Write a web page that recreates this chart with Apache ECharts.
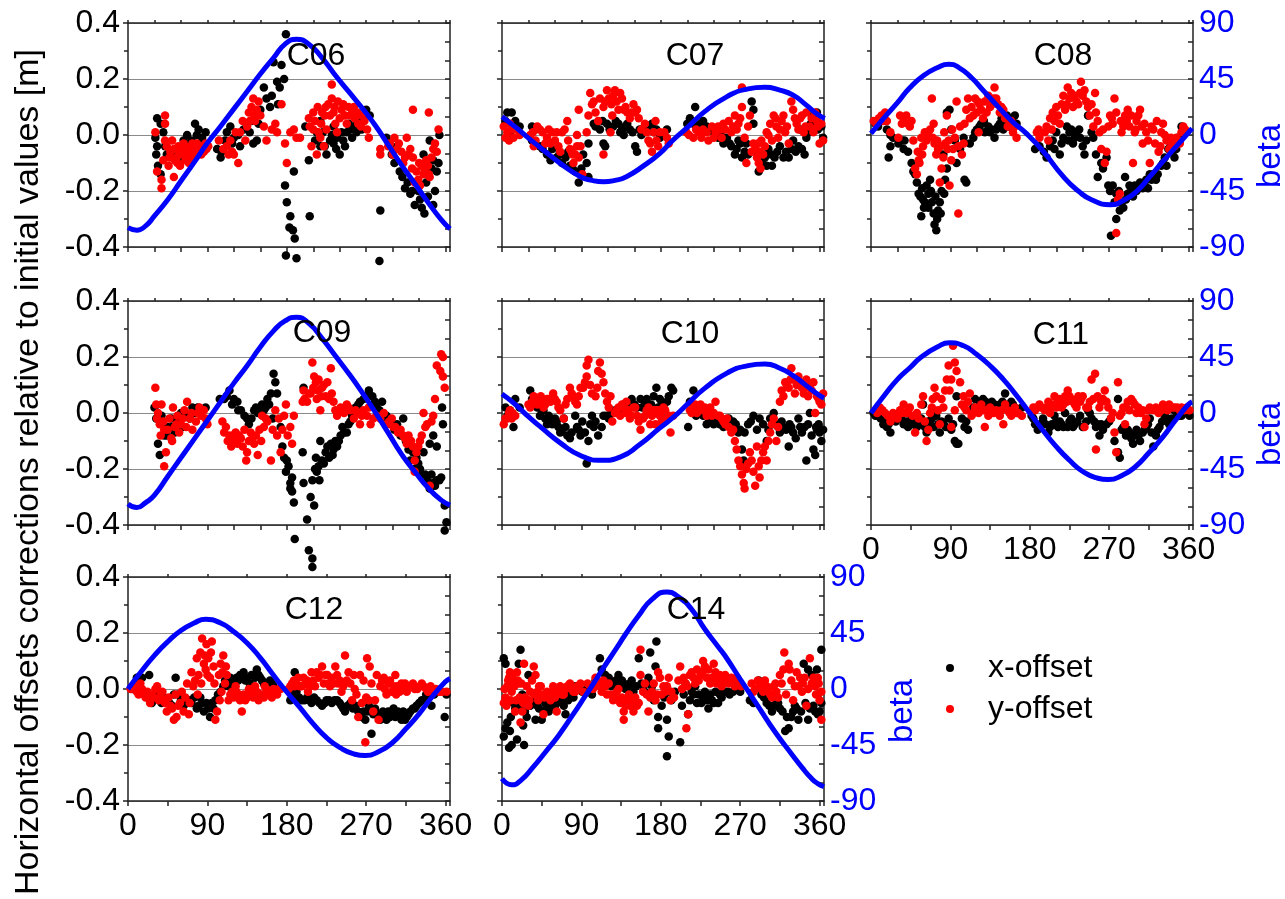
<!DOCTYPE html>
<html><head><meta charset="utf-8">
<script src="https://cdn.jsdelivr.net/npm/echarts@6/dist/echarts.min.js"></script>
<style>html,body{margin:0;padding:0;background:#fff}#c{width:1285px;height:899px}</style>
</head><body><div id="c"></div>
<script>
// ---------------- data ----------------
const panelNames = ['C06','C07','C08','C09','C10','C11','C12','C14'];
const xTickLabels = [0, 90, 180, 270, 360];
const yTickLabels = [-0.4, -0.2, 0.0, 0.2, 0.4];
const betaTickLabels = [-90, -45, 0, 45, 90];
const legendNames = ['x-offset', 'y-offset'];
const yAxisTitle = 'Horizontal offsets corrections relative to initial values [m]';
const betaTitle = 'beta';

// beta angle curves [deg, beta]
const betaC06 = [[0,-74.5],[10,-76.5],[20,-73],[30,-65],[45,-52],[60,-37],[75,-22],[90,-6.5],[105,7],[120,21],[135,35],[150,49],[165,62],[178,73],[191,77],[205,73],[220,62],[235,48],[250,35],[265,22],[280,8],[295,-8],[310,-24],[325,-39],[340,-54],[355,-68],[365,-75.5]];
const betaC07 = [[0,14.7],[15,6.5],[28,-1.3],[45,-11],[66,-22.8],[89,-33.5],[102,-36.5],[115,-37.5],[128,-36.5],[141,-33.5],[160,-25],[179,-14.7],[194,-4],[209,5.4],[230,19],[255,30.8],[275,36.5],[298,38.3],[315,36],[330,32],[345,24],[358,16.5],[366,13.4]];
const betaC08 = [[0,1.3],[15,14],[30,26],[44,38],[60,48],[75,54],[88,56.8],[100,54],[114,46],[127,36],[145,22],[160,11],[176,1.3],[195,-13],[218,-33.5],[235,-45],[250,-52],[271,-56],[290,-51],[303,-44],[316,-33.5],[330,-22],[345,-10],[355,-2],[364,5.4]];
const betaC09 = [[0,-73],[10,-76],[20,-72],[30,-66],[45,-51],[60,-36],[75,-21],[90,-6],[105,9],[120,24],[135,38],[150,53],[165,66],[178,74],[191,77],[205,72],[220,60],[235,46],[250,32],[265,17],[280,1],[295,-16],[310,-33],[325,-47],[340,-60],[355,-70],[365,-74]];
const betaC10 = [[0,15.3],[15,7],[30,-3],[45,-12],[66,-24],[90,-34.5],[113,-38],[135,-35],[155,-26],[179,-12],[195,-3],[210,7],[230,20],[255,32],[275,37.5],[298,39.3],[315,36],[330,30],[345,22],[358,15],[365,12]];
const betaC11 = [[0,0],[15,14],[30,27],[45,37],[57,45],[75,53],[89,56.4],[105,54],[120,47],[135,38],[150,27],[165,14],[180,0],[195,-14],[210,-27],[225,-38],[240,-47],[255,-52],[269,-53.5],[285,-50],[300,-43],[315,-32],[330,-20],[345,-6],[360,7],[364,9]];
const betaC12 = [[0,0],[15,14],[30,27],[45,38],[60,47],[75,53],[88,56],[105,53],[120,46],[135,37],[150,25],[165,11],[176,1],[195,-15],[210,-28],[225,-39],[240,-47],[255,-52],[269,-53.5],[285,-50],[300,-43],[315,-32],[330,-20],[345,-6],[360,6],[365,8.4]];
const betaC14 = [[0,-72],[11,-77],[22,-73],[35,-63],[50,-50],[64,-37.5],[80,-21],[95,-5],[102,2.5],[115,17],[130,33],[140,44],[155,59],[170,72],[187,78],[200,74],[215,64],[230,48],[245,34],[253,26.5],[270,8],[290,-13.5],[310,-35],[328,-52],[340,-63],[351,-72],[358,-76],[365,-78.5]];

// x-offset / y-offset corrections [deg, m]
const xoffC06 = [[33,0.06],[37,0.04],[31,-0.01],[33,-0.04],[32,-0.07],[34,-0.11],[37,-0.14],[40,0.01],[42,-0.04],[44,-0.07],
[55,-0.05],[61,-0.08],[67,0],[72,-0.02],[76,0.04],[80,0.02],[84,-0.01],[88,0.01],[67,-0.04],
[101,-0.05],[105,-0.08],[106,-0.06],[110,-0.02],[116,0.03],[120,-0.01],[125,0],[127,-0.04],[135,0.04],[138,0.01],[142,-0.03],[146,-0.02],[150,0.09],
[154,0.17],[157,0.13],[161,0.10],[163,0.14],[165,0.26],[169,0.19],[172,0.17],[174,0.25],[177,0.20],[179,0.36],[170,0.11],
[178,-0.18],[180,-0.24],[184,-0.29],[183,-0.33],[187,-0.34],[189,-0.37],[179,-0.43],[191,-0.44],[188,-0.13],
[201,0.03],[205,-0.09],[206,-0.29],[212,-0.02],[218,-0.04],[221,0.01],[225,-0.07],[229,-0.02],[233,-0.03],[237,-0.01],[240,-0.07],[244,-0.02],[248,0.01],[252,0.02],[256,0.03],[259,0.01],[263,0.04],[267,0.06],[274,0.07],[233,0.03],[218,0.05],
[285,-0.45],[286,-0.27],[293,-0.01],[299,-0.07],[305,-0.04],[308,-0.13],[314,-0.19],[320,-0.21],[325,-0.25],[327,-0.17],[331,-0.23],[336,-0.28],[335,-0.07],[338,-0.17],[342,-0.02],[346,-0.25],[346,-0.09],[350,-0.13],[352,-0.10],[353,0],
[50,-0.06],[58,-0.06],[63,-0.02],[70,-0.05],[78,0],[85,-0.03],[112,0.01],[118,-0.03],[131,0.02],[140,0.05],[148,0.04],[214,0.01],[223,-0.04],[231,0],[236,-0.05],[242,0.01],[246,-0.04],[250,0.04],[254,-0.01],[260,0.05],[265,0.02],[270,0.09],[296,-0.03],[302,-0.1],[311,-0.15],[317,-0.17],[322,-0.2],[329,-0.2],[333,-0.26],[340,-0.22],[344,-0.12],[348,-0.2]];
const yoffC06 = [[31,0.01],[33,-0.13],[38,-0.16],[38,-0.19],[42,0.07],[42,0.04],[42,-0.02],[40,-0.09],[46,-0.11],[44,-0.04],
[50,-0.02],[52,-0.05],[55,-0.08],[57,-0.04],[61,-0.06],[63,-0.03],[65,-0.09],[67,-0.07],[71,-0.04],[72,-0.07],[74,-0.05],[78,-0.03],[80,-0.06],[84,-0.04],[88,-0.03],[89,-0.05],[59,-0.11],[69,-0.10],[52,-0.15],[76,-0.08],
[103,-0.02],[112,-0.04],[118,-0.06],[120,-0.07],[125,-0.10],[116,-0.02],[122,0.01],[127,0.01],[135,0.03],[137,0.08],[140,0.10],[142,0.13],[146,0.09],[150,0.07],[144,0.05],[138,0.05],[133,-0.02],[154,0.03],[157,-0.02],
[163,0.02],[167,0.04],[169,0.01],[174,0.11],[178,-0.03],[180,-0.10],[184,0.01],[188,0.02],[191,-0.01],[195,-0.01],
[206,0.03],[208,-0.04],[210,0.08],[212,0.05],[214,-0.07],[218,-0.01],[220,0.08],[223,0.07],[227,0.11],[231,0.18],[231,0.13],[233,0.08],[235,0.04],[238,0.12],[242,0.09],[246,0.07],[250,0.10],[254,0.09],[257,0.06],[261,0.04],[265,0.07],[271,0.02],[273,-0.01],[222,-0.04],[216,0.01],
[286,-0.05],[286,-0.07],[297,-0.03],[302,-0.01],[305,-0.05],[310,-0.06],[314,-0.08],[316,-0.01],[320,-0.05],[323,0.09],[323,-0.08],[327,-0.13],[329,-0.16],[333,-0.11],[335,-0.14],[338,-0.09],[341,0.08],[341,-0.14],[342,-0.15],[346,-0.05],[352,0.02],[350,-0.06],[331,-0.18],[325,-0.17],
[48,-0.06],[53,-0.09],[58,-0.07],[62,-0.04],[66,-0.05],[70,-0.08],[75,-0.06],[79,-0.05],[83,-0.07],[86,-0.06],[91,-0.04],[47,-0.08],[56,-0.1],[64,-0.07],[73,-0.03],
[205,0.06],[210,0.02],[215,0.1],[219,0.04],[224,0.1],[229,0.07],[234,0.1],[240,0.06],[244,0.11],[248,0.04],[252,0.07],[256,0.1],[260,0.08],[264,0.03],[268,0.05],[225,0.02],[237,0.01],
[295,-0.04],[300,-0.07],[307,-0.03],[312,-0.1],[318,-0.07],[322,-0.12],[330,-0.1],[336,-0.12],[340,-0.11],[344,-0.08],[348,-0.03],
[108,-0.05],[114,-0.07],[130,0.05],[143,0.07],[148,0.12]];

const xoffC07 = [[6,0.08],[11,0.08],[15,0.05],[4,0.05],[9,0.01],[8,0],
[34,0.03],[38,0.02],[34,-0.02],[43,-0.04],[51,-0.07],[57,-0.05],[62,-0.08],[68,-0.10],[72,-0.08],[77,-0.11],[83,-0.13],[87,-0.17],[96,-0.10],[98,-0.15],[92,-0.07],[98,-0.03],[115,-0.03],[117,-0.04],
[104,0.04],[111,0.02],[119,0.04],[126,0.03],[132,0.04],[136,0.02],[138,0],[142,0.04],[145,0.02],[151,-0.04],[153,-0.06],[158,0],[162,0.03],[170,0.04],[175,0.02],[179,-0.01],[187,0.02],
[213,0.06],[219,0.10],[217,0.04],[225,0.04],[232,0.03],[240,0.01],[245,-0.01],[251,-0.03],[255,-0.01],[260,-0.04],[264,-0.07],[268,-0.02],[272,-0.08],[275,-0.06],[277,-0.03],[283,0.12],[285,0.09],[285,0.04],[291,-0.13],[292,-0.10],
[298,-0.08],[302,-0.05],[306,-0.11],[309,-0.08],[315,-0.04],[319,-0.08],[325,-0.08],[330,-0.02],[336,-0.04],[338,0.02],[343,-0.07],[345,-0.01],[353,0.07],[357,0.08],[358,0.02],[362,0.03],[364,-0.01],
[20,0.03],[46,-0.05],[55,-0.09],[65,-0.07],[75,-0.06],[80,-0.12],[90,-0.12],[106,0.03],[114,0.05],[122,0.02],[129,0.05],[134,0.01],[140,0.03],[148,0.01],[156,0.02],[165,0.02],[172,0.01],[210,0.04],[222,0.03],[228,0.05],[236,0.02],[248,0],[258,-0.03],[266,-0.05],[270,-0.03],[279,-0.07],[288,-0.06],[295,-0.09],[300,-0.11],[305,-0.07],[312,-0.06],[322,-0.06],[328,-0.05],[333,-0.06],[340,-0.05],[348,0.01],[350,0.04],[355,0.05]];
const yoffC07 = [[2,0.03],[6,0.01],[8,-0.02],[13,-0.01],[9,0.04],[15,0.02],
[32,0],[36,-0.04],[40,0.03],[43,0.02],[49,-0.03],[53,0.02],[57,0.01],[60,-0.02],[64,-0.04],[68,0.01],[74,0.05],[75,-0.02],[79,-0.06],[81,-0.10],[85,-0.04],[87,-0.08],[83,-0.07],[89,-0.04],[91,-0.14],[87,0.09],[85,0],
[96,0.01],[98,0.07],[100,0.15],[102,0.11],[106,0.08],[109,0.05],[115,0.10],[119,0.16],[121,0.13],[125,0.07],[126,0.14],[130,0.12],[134,0.15],[136,0.13],[138,0.09],[142,0.08],[145,0.06],[149,0.11],[151,0.08],[155,0.06],[115,-0.07],[123,0.01],[162,0.04],[164,0.01],[168,-0.03],[170,-0.06],[174,0.05],[175,-0.02],[179,0.01],[187,-0.01],[189,-0.03],
[209,0.01],[217,-0.01],[223,0.01],[228,0.02],[234,-0.02],[238,0.03],[242,0.01],[245,0.03],[249,-0.01],[253,0.02],[257,0.05],[260,0.01],[264,0.07],[268,0.04],[272,0.17],[272,0.10],[275,-0.01],[277,-0.10],[281,0.07],[285,-0.03],[287,-0.05],[289,-0.08],[291,-0.10],[292,-0.06],[294,-0.02],[296,-0.07],
[300,0.01],[304,0.04],[306,-0.02],[308,0.07],[311,0.03],[313,-0.01],[317,0.05],[321,0.01],[325,-0.03],[328,0.12],[330,0.09],[334,0.04],[338,0.06],[342,0.01],[345,0.08],[349,0.03],[353,0.01],[357,0.05],[360,-0.03],[362,0.04],[364,-0.02],
[4,-0.01],[11,0.02],[20,0],[35,0.01],[38,-0.02],[46,0.01],[51,-0.01],[55,-0.03],[62,0.01],[66,-0.06],[71,0.02],[77,-0.05],[80,-0.07],[104,0.12],[111,0.13],[117,0.12],[124,0.11],[128,0.16],[132,0.09],[140,0.1],[147,0.08],[153,0.09],[158,0.02],[166,-0.02],[172,0.01],[177,-0.04],[184,0.01],[212,0],[220,0.02],[226,-0.01],[232,0.01],[240,-0.01],[247,0.02],[251,0.04],[262,0.03],[266,0.02],[270,0.06],[279,0.03],[283,-0.06],[290,-0.03],[293,-0.12],[298,-0.04],[302,0],[310,0.06],[315,0.02],[319,0.07],[323,0.03],[332,0.06],[336,0.02],[340,0.07],[344,0.03],[351,0.06],[355,0.08],[358,0.03]];

const xoffC08 = [[5,0.04],[10,0.05],[18,0.02],[20,-0.08],[22,-0.04],[22,0],
[31,-0.03],[35,-0.02],[37,-0.05],[38,-0.02],[46,-0.10],[48,-0.13],[52,-0.17],[54,-0.21],[56,-0.22],[57,-0.29],[59,-0.23],[61,-0.24],[65,-0.21],[65,-0.26],[67,-0.16],[69,-0.24],[71,-0.28],[72,-0.32],[74,-0.34],[76,-0.27],[78,-0.24],[80,-0.20],[84,-0.16],[86,-0.12],[63,-0.18],
[82,-0.07],[86,0.08],[89,0.09],[91,0.02],[95,-0.02],[97,-0.10],[101,-0.05],[105,-0.01],[106,-0.16],[108,-0.17],[112,-0.03],[116,-0.01],[120,0.02],[125,0.04],[129,0.01],[133,0.03],[137,0.02],[140,-0.01],[142,0.02],[146,0.04],[150,0.02],[154,0.07],[157,0.03],[163,0.07],[165,0.04],
[186,-0.05],[191,-0.04],[199,-0.08],[203,-0.04],[206,-0.02],[210,0.01],[214,-0.07],[218,-0.01],[222,0.03],[225,0.01],[229,-0.03],[233,0.01],[237,-0.01],[240,-0.04],[242,-0.07],[246,0.07],[252,-0.01],[255,-0.07],[257,-0.15],[261,-0.10],[263,-0.12],[267,-0.08],
[269,-0.18],[271,-0.20],[274,-0.18],[278,-0.21],[272,-0.36],[278,-0.30],[282,-0.27],[286,-0.26],[288,-0.15],[289,-0.23],[291,-0.21],[295,-0.19],[299,-0.18],[301,-0.20],[305,-0.17],[308,-0.19],[312,-0.16],[316,-0.14],[320,-0.14],[323,-0.16],[329,-0.11],[333,-0.08],[337,-0.05],[340,-0.03],[344,-0.08],[348,-0.01],[352,0.03],[355,0.01],
[8,0.03],[25,-0.01],[42,-0.06],[50,-0.14],[58,-0.19],[60,-0.26],[68,-0.2],[73,-0.22],[75,-0.3],[79,-0.28],[83,-0.21],[118,0.01],[123,0.03],[128,0.05],[135,0.01],[144,0.03],[148,0.06],[152,0.04],[160,0.05],[196,-0.06],[208,-0.05],[216,-0.03],[224,-0.02],[227,0.02],[231,-0.01],[236,0.02],[244,-0.02],[250,0.01],[276,-0.24],[281,-0.2],[284,-0.24],[293,-0.18],[297,-0.22],[303,-0.19],[310,-0.17],[314,-0.19],[318,-0.16],[325,-0.14],[331,-0.1],[335,-0.11],[342,-0.06],[346,-0.05],[350,-0.02]];
const yoffC08 = [[3,0.05],[6,0.04],[12,0.07],[16,0.08],[18,0.05],[22,0.01],
[31,-0.01],[33,0.07],[37,0.06],[40,0.07],[42,0.04],[46,0.05],[48,-0.02],[50,-0.12],[52,-0.14],[54,-0.09],[55,-0.10],[57,-0.01],[59,-0.04],[61,0.01],[63,-0.02],[67,0.02],[69,0.13],[71,0.04],[72,-0.03],[74,-0.07],[76,-0.05],[78,-0.17],[80,-0.12],[82,-0.08],[84,-0.03],[86,0.07],[88,-0.02],[89,-0.18],[91,-0.09],[93,-0.05],[95,-0.01],
[97,0.12],[99,-0.28],[99,-0.04],[103,-0.07],[105,-0.03],[106,0.04],[110,0.13],[112,0.06],[114,0.10],[118,0.13],[120,0.08],[122,0.01],[123,0.11],[127,0.06],[131,0.08],[133,0.14],[137,0.11],[140,0.17],[142,0.13],[146,0.08],[148,0.10],[152,0.06],[155,0.03],[159,0.05],[161,0.01],[165,-0.01],
[188,0.01],[191,-0.01],[197,0.01],[201,-0.02],[205,0.02],[206,0.08],[208,0.05],[210,0.10],[214,0.04],[218,0.14],[220,0.09],[223,0.17],[225,0.13],[229,0.10],[231,0.14],[235,0.11],[238,0.19],[240,0.14],[242,0.16],[246,0.10],[248,0.07],[252,0.03],[254,0.15],[255,0.08],[259,0.01],[261,-0.05],[265,-0.10],[267,-0.06],
[271,0.07],[274,0.04],[276,0.13],[278,-0.35],[280,-0.23],[282,-0.21],[284,0.01],[286,0.03],[288,0.07],[291,0.09],[293,0.03],[297,-0.10],[299,0.01],[301,0.05],[305,0.09],[307,0.03],[308,-0.03],[312,0.01],[316,-0.10],[318,0.03],[322,-0.03],[326,-0.06],[329,0.01],[331,0.04],[335,-0.02],[338,-0.05],[340,-0.01],[344,-0.04],[348,-0.02],[352,0.01],[354,0.03],
[9,0.06],[14,0.05],[35,0.04],[44,0.03],[53,-0.06],[58,-0.07],[65,0],[70,-0.01],[75,-0.02],[79,-0.04],[83,0.01],[87,-0.05],[92,0.02],[101,0.03],[108,0.09],[116,0.07],[121,0.12],[125,0.09],[129,0.12],[135,0.1],[139,0.13],[144,0.11],[150,0.09],[157,0.04],[163,0.03],[190,0.02],[199,0.03],[203,0.06],[212,0.07],[216,0.11],[222,0.11],[227,0.15],[233,0.12],[237,0.15],[244,0.12],[250,0.11],[257,0.05],[263,0.02],[269,0.03],[273,0.06],[278,0.08],[283,0.05],[290,0.05],[295,0.07],[300,0.02],[303,0.07],[310,0.04],[314,-0.02],[320,0.02],[324,0.05],[328,-0.04],[333,0],[337,-0.02],[342,-0.03],[346,-0.01],[350,-0.03],[356,0.02]];

const xoffC09 = [[30,0.02],[34,-0.11],[36,-0.15],[38,-0.01],[41,-0.08],[45,-0.05],[49,-0.02],[53,-0.07],[62,-0.05],[66,-0.01],[73,0.02],[79,0.02],[88,0.02],
[109,0.05],[115,0.08],[120,0.05],[124,0.04],[128,0.01],[132,-0.01],[137,-0.04],[143,0.01],[147,0],[150,0.02],[154,0.01],[158,0.05],[162,0.07],[165,0.14],[167,0.11],[169,0.07],[164,-0.02],[173,-0.05],
[177,-0.16],[179,-0.21],[182,-0.19],[184,-0.25],[186,-0.23],[184,-0.27],[188,-0.32],[189,-0.45],[198,-0.14],[199,-0.25],[203,-0.38],[205,-0.49],[209,-0.52],[209,-0.55],[207,-0.30],[211,-0.33],[209,-0.24],[199,0.09],
[213,-0.16],[214,-0.21],[216,-0.19],[218,-0.10],[220,-0.17],[224,-0.14],[228,-0.16],[230,-0.11],[233,-0.13],[237,-0.12],[241,-0.08],[243,-0.05],[248,-0.07],[250,-0.04],[254,-0.01],[258,0.02],[261,0.03],[267,0.05],[273,0.08],[277,0.06],[282,0.02],[288,0.04],[293,-0.01],[299,-0.04],[305,-0.04],[312,-0.02],[309,-0.08],
[320,-0.17],[323,-0.14],[325,-0.20],[329,-0.18],[333,-0.22],[335,-0.14],[339,-0.24],[342,-0.27],[346,-0.25],[350,-0.24],[355,-0.23],[342,-0.11],[350,-0.12],[357,-0.04],[356,0.02],[359,-0.33],[361,-0.39],[359,-0.42],[346,-0.08],
[32,-0.02],[40,-0.04],[44,-0.08],[50,-0.05],[56,-0.03],[60,0],[70,-0.02],[76,0],[84,0.01],[104,0.05],[112,0.06],[118,0.03],[125,0.01],[135,-0.02],[140,-0.02],[145,0.02],[152,0.03],[156,0.02],[160,0.03],[175,-0.12],[180,-0.17],[186,-0.28],[212,-0.2],[217,-0.24],[222,-0.18],[226,-0.12],[232,-0.15],[235,-0.1],[239,-0.1],[245,-0.07],[252,-0.03],[256,0],[263,0.04],[270,0.06],[280,0.04],[285,0.01],[290,-0.02],[296,-0.03],[302,-0.06],[315,-0.1],[318,-0.13],[327,-0.16],[331,-0.2],[337,-0.22],[344,-0.22],[348,-0.26],[353,-0.24]];
const yoffC09 = [[31,0.09],[32,0.03],[34,0],[38,0.03],[36,-0.04],[41,-0.06],[43,-0.14],[41,-0.19],[47,-0.02],[49,-0.09],[51,0.02],[53,-0.05],[56,-0.01],[60,-0.04],[64,0.01],[67,0.04],[70,-0.02],[73,-0.06],[79,0],[83,-0.01],[86,0.01],[90,-0.04],
[107,-0.03],[111,-0.05],[115,-0.08],[117,-0.12],[120,-0.10],[122,-0.07],[126,-0.08],[130,-0.12],[134,-0.17],[135,-0.14],[139,-0.07],[143,-0.11],[147,-0.15],[149,-0.06],[152,-0.01],[156,-0.02],[162,-0.17],[164,-0.06],[167,0.01],[171,-0.02],[173,-0.14],[177,-0.01],[179,0.03],[181,-0.08],[184,-0.05],[188,-0.01],[186,-0.11],
[198,0.04],[199,0.08],[203,0.04],[207,0.07],[209,0.18],[211,0.13],[213,0.11],[214,0.05],[216,0.12],[218,0.01],[220,0.09],[224,0.06],[226,0.11],[230,0.16],[231,0.07],[233,0.04],[237,-0.01],[241,0.02],[245,0],[248,0.03],[252,0.01],[256,-0.02],[260,0],[263,-0.04],[267,0.01],[271,-0.01],[275,-0.04],
[282,-0.01],[290,0],[293,-0.04],[299,-0.02],[303,-0.05],[306,-0.07],[312,-0.08],[316,-0.11],[321,-0.10],[325,-0.17],[325,-0.21],[329,-0.12],[333,-0.08],[335,0],[339,-0.04],[342,-0.26],[346,-0.01],[348,0.05],[350,0.17],[354,0.15],[355,0.21],[357,0.13],[359,0.09],[357,0.20],
[33,-0.02],[37,-0.08],[40,-0.03],[45,-0.06],[50,-0.1],[55,-0.04],[58,-0.07],[62,-0.02],[66,-0.05],[72,0],[77,-0.03],[81,0.02],[88,-0.02],[109,-0.07],[113,-0.1],[119,-0.08],[124,-0.11],[128,-0.09],[132,-0.06],[137,-0.1],[141,-0.09],[145,-0.08],[151,-0.1],[154,-0.05],[158,-0.03],[169,-0.08],[175,-0.06],[200,0.05],[205,0.07],[210,0.09],[215,0.08],[219,0.06],[222,0.1],[228,0.05],[235,0.01],[243,0.01],[250,0.02],[258,0.01],[265,-0.01],[273,0.02],[278,-0.02],[286,-0.02],[296,-0.03],[301,-0.05],[309,-0.06],[314,-0.09],[318,-0.08],[323,-0.12],[327,-0.14],[331,-0.1],[337,-0.05],[344,-0.03]];

const xoffC10 = [[4,0.02],[6,-0.01],[9,0.01],[13,-0.05],[15,0.05],
[32,0.08],[34,0.05],[40,0.02],[43,-0.01],[45,0.01],[49,-0.02],[53,-0.01],[57,-0.04],[60,-0.02],[64,-0.05],[68,-0.06],[70,-0.02],[74,-0.08],[77,-0.09],[83,-0.01],[85,-0.05],[89,-0.08],[94,-0.07],[96,-0.18],[98,-0.10],[102,-0.01],[104,-0.05],[109,-0.08],
[113,-0.05],[115,-0.01],[121,-0.02],[126,0],[132,0.01],[138,0.03],[143,0.01],[147,0.05],[153,0.02],[157,0.05],[162,0.03],[166,0.01],[172,0.06],[175,0.09],[179,0.05],[183,0.02],[189,0.06],[192,0.09],[194,0.08],[185,-0.02],
[211,-0.05],[213,0.04],[217,0.08],[223,0.02],[228,-0.01],[232,-0.04],[238,-0.02],[243,-0.02],[251,-0.05],[257,-0.02],[262,-0.03],[268,-0.07],[272,-0.13],[274,-0.17],[275,-0.07],[279,-0.04],[285,-0.01],[289,-0.06],[292,-0.02],
[300,-0.10],[304,-0.02],[308,0],[311,-0.04],[315,-0.07],[319,-0.05],[325,-0.12],[326,-0.04],[330,-0.07],[336,-0.02],[340,-0.07],[343,-0.05],[345,-0.17],[349,0],[351,-0.08],[353,-0.13],[355,-0.15],[357,-0.06],[360,-0.07],[362,-0.10],[364,-0.06],
[20,0.02],[36,0.03],[47,0.01],[51,-0.04],[55,-0.02],[62,-0.03],[66,-0.07],[72,-0.05],[79,-0.07],[87,-0.06],[91,-0.03],[100,-0.04],[106,-0.03],[118,-0.01],[124,0.01],[129,0.01],[135,0.02],[141,0.03],[150,0.03],[159,0.02],[164,0.05],[169,0.03],[177,0.02],[181,0.04],[187,0.04],[215,0.01],[220,-0.01],[226,0],[235,-0.03],[240,-0.04],[247,-0.04],[254,-0.03],[260,-0.05],[265,-0.04],[270,-0.06],[282,-0.03],[296,-0.04],[302,-0.06],[306,-0.04],[313,-0.05],[317,-0.03],[322,-0.06],[328,-0.05],[333,-0.09],[338,-0.05],[347,-0.04],[356,-0.05],[359,-0.04]];
const yoffC10 = [[2,-0.04],[6,-0.02],[9,0.01],[11,-0.02],[15,-0.01],[8,0],
[30,0.03],[34,0.04],[38,0.05],[42,0.05],[45,0.04],[49,0.03],[53,0.05],[58,0.07],[62,0.04],[66,0.01],[70,-0.02],[74,0.05],[77,0.09],[81,0.06],[85,0.03],[89,0.09],[92,0.09],[96,0.13],[96,0.17],[98,0.19],[102,0.07],[108,0.09],[109,0.15],[111,0.18],[113,0.14],[115,0.11],[119,0.04],[123,0.06],[125,-0.03],[128,0],
[132,0.02],[136,0.03],[140,0],[141,0.04],[145,-0.02],[149,0.02],[153,-0.01],[157,-0.06],[160,-0.02],[164,0.01],[170,-0.01],[174,-0.04],[175,0.01],[179,-0.01],[183,0.02],[187,-0.02],[191,-0.07],[194,-0.01],
[213,0.01],[217,0.02],[221,0],[225,0.03],[230,0.02],[234,0.01],[238,-0.01],[242,0.04],[245,-0.01],[249,-0.02],[253,-0.04],[257,-0.05],[260,-0.07],[264,-0.10],[266,-0.13],[268,-0.17],[270,-0.19],[274,-0.25],[275,-0.27],[281,-0.14],[283,-0.17],[285,-0.21],[287,-0.26],[289,-0.12],[291,-0.19],[292,-0.23],[294,-0.17],[296,-0.14],[300,-0.17],[302,-0.10],
[304,-0.07],[308,-0.02],[311,-0.10],[313,-0.05],[315,0.04],[317,0.08],[321,0.11],[325,0.09],[328,0.16],[330,0.12],[332,0.07],[336,0.13],[340,0.09],[342,0.07],[345,0.12],[347,0.06],[351,0.08],[353,0.11],[355,0],[359,0.05],[362,0.03],[364,0.07],
[4,-0.02],[12,0],[32,0.02],[36,0.06],[40,0.03],[44,0.06],[47,0.02],[51,0.05],[55,0.04],[60,0.05],[64,0.02],[72,0.03],[79,0.07],[83,0.04],[87,0.06],[94,0.11],[100,0.1],[106,0.06],[117,0.07],[121,0.02],[130,0.01],[134,-0.01],[138,0.02],[143,0.01],[147,-0.01],[151,0.02],[155,-0.03],[162,-0.01],[166,0.02],[168,-0.04],[172,0.01],[177,0.01],[181,-0.03],[185,0.01],[189,-0.01],[215,0],[219,0.03],[223,0.01],[228,0.01],[232,-0.01],[236,0.02],[240,0],[247,-0.01],[251,-0.03],[255,-0.02],[262,-0.06],[272,-0.22],[277,-0.2],[279,-0.18],[298,-0.12],[306,-0.04],[319,0.06],[323,0.1],[327,0.12],[334,0.1],[338,0.11],[344,0.09],[349,0.1],[357,0.06],[360,0.04]];

const xoffC11 = [[3,0],[8,-0.01],[14,-0.04],[18,-0.05],[22,-0.07],[25,-0.02],[31,-0.01],[37,-0.04],[42,-0.05],[46,-0.02],[52,-0.05],[55,-0.04],[59,0.03],[63,-0.07],[67,-0.04],[71,-0.05],[74,-0.01],[78,-0.07],[82,-0.04],[88,-0.02],[91,-0.06],[95,-0.10],[97,-0.11],[99,-0.11],[97,0.06],
[103,-0.02],[106,-0.05],[110,-0.06],[114,0.01],[118,0.05],[123,0.04],[127,0.05],[133,0.02],[137,0.04],[142,0.02],[146,0.03],[152,0.07],[155,0.01],[159,0.04],[163,0.02],[167,0],[171,0.02],
[182,-0.01],[186,-0.04],[189,-0.06],[195,-0.02],[201,-0.07],[205,-0.04],[208,-0.01],[212,-0.05],[216,-0.04],[220,0],[223,-0.05],[227,-0.02],[231,-0.04],[237,-0.01],[240,-0.05],[246,0.01],[250,-0.02],[255,-0.05],[259,-0.08],[263,-0.06],[267,-0.04],
[272,-0.02],[276,-0.10],[280,-0.14],[282,-0.16],[280,0.05],[286,-0.05],[289,-0.08],[293,-0.07],[297,-0.11],[301,-0.06],[305,-0.10],[308,-0.07],[312,-0.05],[316,-0.02],[320,-0.12],[323,-0.08],[327,-0.05],[333,-0.01],[338,-0.04],[344,0.01],[350,-0.01],[355,0.01],[361,-0.01],
[5,-0.01],[11,-0.02],[16,-0.03],[20,-0.04],[28,-0.03],[34,-0.02],[40,-0.03],[48,-0.04],[57,-0.02],[61,-0.05],[65,-0.03],[69,-0.02],[76,-0.04],[80,-0.03],[85,-0.05],[93,-0.04],[108,-0.03],[116,0.02],[121,0.02],[125,0.03],[130,0.04],[135,0.01],[140,0.03],[144,0.01],[149,0.04],[157,0.02],[161,0.03],[165,0.01],[184,-0.02],[192,-0.04],[198,-0.04],[203,-0.05],[210,-0.03],[214,-0.03],[218,-0.05],[225,-0.03],[229,-0.05],[234,-0.03],[244,-0.03],[248,0],[253,-0.03],[257,-0.04],[261,-0.04],[270,-0.03],[284,-0.06],[291,-0.06],[295,-0.09],[299,-0.08],[303,-0.08],[310,-0.06],[314,-0.04],[318,-0.07],[325,-0.06],[330,-0.03],[336,-0.02],[341,-0.02],[347,0],[352,-0.01],[358,0]];
const yoffC11 = [[5,0.01],[10,0.02],[16,0],[22,-0.03],[27,-0.01],[33,0.01],[37,0.03],[40,0],[44,0.02],[50,-0.07],[54,-0.02],[57,0.03],[59,0.06],[63,-0.10],[65,-0.06],[69,0.02],[72,0.09],[74,0.06],[78,-0.04],[80,0.05],[84,0.08],[86,0.12],[88,0.17],[91,0.12],[93,0.24],[95,0.18],[97,0.15],[101,0.11],[91,-0.05],[89,0.08],
[105,0.06],[106,0.02],[108,0.01],[112,0.07],[114,-0.01],[118,0.02],[122,0],[125,0.03],[129,-0.05],[131,0.01],[135,0.02],[139,0],[142,0.01],[146,-0.01],[150,-0.04],[152,0.03],[155,0.01],[159,-0.01],[163,0.02],[167,0],[171,-0.01],
[184,0.02],[188,0.02],[191,0.03],[197,0.01],[201,0.04],[205,0.02],[208,0.06],[212,0.04],[216,0.02],[220,0.06],[223,0.08],[227,0.05],[231,0.03],[235,0.06],[238,0.05],[242,-0.05],[246,0.02],[250,0.12],[254,0.14],[255,-0.13],[257,0.06],[261,0.04],[265,0.08],[269,0.02],[272,-0.02],
[276,-0.07],[278,-0.14],[280,0.11],[284,0],[288,-0.04],[291,0.04],[295,0.05],[299,0.03],[303,0.02],[306,0],[310,-0.04],[314,0.01],[320,0.01],[323,0.02],[329,0.01],[333,0.02],[338,0.03],[344,0.02],[350,0.01],[355,0.01],[361,0.01],
[7,0],[13,0.01],[19,-0.01],[25,0],[30,-0.02],[35,0],[42,0.01],[47,-0.01],[52,0],[61,-0.03],[67,0],[70,0.05],[76,0.01],[82,0.02],[95,0.01],[103,0.03],[110,0.04],[116,0],[120,0.01],[127,0.01],[133,-0.01],[137,0.01],[144,0],[148,0.01],[157,0],[161,0.01],[165,0],[186,0.01],[193,0.02],[199,0.02],[203,0],[207,0.03],[210,0.02],[214,0.05],[218,0.03],[222,0.04],[225,0.06],[229,0.04],[233,0.02],[237,0.04],[240,0.06],[244,0.02],[248,0.04],[252,0.05],[259,0.02],[263,0.05],[267,0.04],[274,0],[282,-0.01],[286,0.02],[289,0.02],[293,0.01],[297,0.04],[301,0],[308,0.01],[312,-0.02],[316,0.02],[326,0],[331,0.03],[336,0.01],[341,0.02],[347,0.02],[352,0.02],[358,0.02]];

const xoffC12 = [[5,0],[10,0.04],[16,0.04],[22,-0.03],[24,0.05],[27,-0.05],[33,-0.02],[38,-0.05],[44,-0.04],[50,-0.06],[54,0.04],[57,-0.02],[63,-0.06],[69,-0.04],[72,-0.05],[78,-0.07],[82,-0.03],[86,-0.08],[89,-0.05],[93,-0.10],[97,-0.07],[99,-0.04],
[105,-0.01],[108,0.01],[112,0.02],[116,0.04],[120,0.02],[123,0.04],[127,0.05],[131,0.06],[135,0.04],[138,0.02],[142,0.05],[146,0.07],[150,0.04],[154,0.02],[157,0.01],[161,0.03],[165,0.01],
[184,-0.04],[189,0.06],[191,-0.01],[197,-0.04],[203,-0.03],[208,-0.05],[214,-0.04],[220,-0.06],[225,-0.04],[231,-0.05],[237,-0.04],[242,-0.06],[246,-0.08],[252,-0.05],[255,-0.07],[261,-0.08],[265,-0.10],[269,-0.11],[276,-0.16],[273,-0.06],
[280,-0.07],[286,-0.11],[289,-0.08],[293,-0.11],[297,-0.10],[301,-0.07],[306,-0.08],[310,-0.11],[314,-0.11],[318,-0.09],[323,-0.07],[327,-0.06],[333,-0.04],[338,-0.02],[344,-0.06],[350,-0.01],[359,-0.10],[361,-0.02],
[7,0.01],[13,-0.01],[19,-0.02],[30,-0.03],[36,-0.02],[41,-0.03],[47,-0.05],[52,-0.02],[60,-0.04],[66,-0.05],[75,-0.03],[80,-0.06],[84,-0.05],[91,-0.07],[95,-0.05],[102,-0.02],[110,0.03],[114,0.01],[118,0.03],[125,0.03],[129,0.04],[133,0.03],[140,0.05],[144,0.04],[148,0.05],[152,0.03],[159,0.02],[163,0.02],[168,0],[186,-0.02],[194,-0.03],[200,-0.04],[206,-0.04],[211,-0.03],[217,-0.05],[223,-0.05],[228,-0.04],[234,-0.04],[240,-0.05],[244,-0.07],[249,-0.06],[258,-0.06],[263,-0.09],[267,-0.08],[271,-0.08],[278,-0.09],[283,-0.09],[291,-0.09],[295,-0.08],[299,-0.08],[303,-0.1],[308,-0.09],[312,-0.08],[316,-0.1],[320,-0.08],[325,-0.07],[330,-0.05],[336,-0.04],[341,-0.03],[347,-0.02]];
const yoffC12 = [[5,0.01],[10,-0.01],[14,0.02],[18,-0.02],[22,-0.01],[25,-0.05],[29,-0.03],[33,0.01],[37,-0.02],[40,-0.04],[44,-0.08],[48,-0.06],[52,-0.11],[54,-0.02],[55,-0.10],[59,-0.05],[61,-0.01],[63,-0.08],[67,0.02],[69,-0.09],[72,0.06],[74,0.01],[78,0.11],[80,0.05],[82,0.13],[84,0.18],[86,0.09],[88,0.07],[89,0.16],[91,0.11],[93,0.04],[95,0.17],[97,0.08],[99,-0.11],[101,-0.08],[103,0.05],[105,0.09],[106,-0.01],
[108,0.12],[110,0.02],[112,0.05],[114,-0.04],[118,-0.01],[122,0.01],[125,-0.02],[129,-0.08],[133,-0.04],[137,0],[140,-0.02],[144,0.01],[148,-0.04],[152,-0.02],[155,0.01],[159,-0.01],[163,-0.03],[167,-0.01],[171,0],
[182,0],[186,0.02],[189,0.01],[193,0.04],[197,0.01],[201,0.02],[204,-0.01],[208,0.06],[212,0.01],[216,0.04],[220,0.08],[224,0.05],[227,0.02],[231,0.04],[235,0.08],[238,0.02],[242,-0.01],[246,0.12],[250,0.06],[254,-0.04],[257,0],[261,-0.10],[263,0.05],[267,0.03],[269,-0.19],[271,0.11],[273,-0.04],[274,0.08],[278,-0.08],
[282,0.05],[284,-0.11],[288,0.03],[291,0],[295,0.02],[299,-0.01],[303,0.05],[305,0.01],[308,-0.01],[312,0.01],[316,-0.01],[321,0.01],[325,0],[331,0.01],[335,0.01],[340,-0.01],[346,0],[353,-0.01],[361,-0.01],
[3,0],[8,0.01],[12,-0.02],[16,0],[20,-0.03],[27,-0.02],[31,0],[35,-0.04],[39,-0.01],[42,-0.05],[46,-0.03],[50,-0.07],[57,-0.06],[65,-0.03],[70,-0.05],[76,0.03],[79,-0.02],[83,0.02],[87,0.12],[90,0.05],[94,0.13],[98,0.02],[104,-0.04],[107,0.06],[111,0.08],[116,-0.02],[120,-0.03],[123,-0.01],[127,-0.04],[131,-0.02],[135,-0.03],[139,-0.01],[142,-0.03],[146,-0.01],[150,-0.02],[154,-0.03],[157,0],[161,-0.02],[165,0],[169,-0.02],[173,0],[184,0.01],[188,0.03],[191,0.02],[195,0.01],[199,0.04],[203,0.03],[206,0.01],[210,0.03],[214,0.06],[218,0.05],[222,0.02],[226,0.05],[229,0.01],[233,0.02],[237,0.05],[240,0.03],[244,0.01],[248,0.03],[252,0.02],[256,0.05],[259,-0.02],[265,-0.05],[270,-0.03],[276,0.02],[280,-0.04],[286,0.01],[290,0.04],[293,-0.02],[297,0.03],[301,0.01],[304,-0.02],[310,0.02],[314,0.02],[318,0.01],[323,0.02],[328,0],[333,0.02],[338,0],[343,0.01],[349,0],[356,-0.01]];

const xoffC14 = [[2,0.11],[4,0.09],[2,-0.17],[4,-0.14],[8,-0.21],[9,-0.15],[11,-0.20],[13,-0.05],[17,-0.18],[19,0.09],[21,0.14],[23,-0.02],[25,-0.20],[26,-0.08],[30,0.05],[34,0.04],[36,-0.04],[38,-0.11],[42,-0.07],[45,-0.11],[49,-0.05],[53,-0.08],[57,-0.04],[60,-0.07],[64,-0.02],[68,-0.05],[72,-0.09],[75,-0.04],[79,-0.01],[83,0.01],[87,0.01],[91,-0.01],
[102,-0.02],[111,0.11],[113,0.07],[117,0.05],[121,0.04],[126,0.02],[132,0.05],[136,0.03],[140,0],[145,0.02],[149,-0.01],[155,0.11],[158,0.02],[162,-0.01],[166,0.04],[168,0.13],[172,-0.04],[174,0.08],[175,0.17],[177,-0.10],[177,-0.14],[181,-0.06],[187,-0.11],[189,-0.17],[187,-0.24],[192,-0.04],[196,-0.01],[202,-0.19],[204,-0.06],
[208,0.02],[211,-0.09],[215,-0.01],[219,0.01],[223,-0.02],[226,-0.05],[230,-0.01],[234,-0.07],[238,-0.04],[242,-0.01],[245,-0.05],[249,-0.03],[253,-0.01],[258,-0.02],[264,0],[270,-0.01],[281,-0.04],[285,-0.05],[291,0.03],[294,-0.02],
[300,-0.05],[306,-0.08],[311,-0.04],[315,-0.07],[321,-0.15],[325,-0.14],[328,-0.10],[332,-0.06],[336,-0.11],[342,0.09],[347,0.07],[347,-0.11],[351,0.05],[353,-0.06],[357,0.07],[358,-0.02],[358,-0.09],[362,0.14],[362,-0.05],
[6,-0.12],[10,-0.1],[15,-0.07],[20,-0.06],[24,-0.13],[28,-0.1],[32,-0.06],[40,-0.06],[44,-0.03],[47,-0.08],[51,-0.07],[55,-0.06],[59,-0.03],[62,-0.05],[66,-0.03],[70,-0.06],[77,-0.02],[81,-0.03],[85,0],[96,0],[106,0.03],[119,0.02],[124,0.01],[129,0.03],[134,0.01],[138,0.02],[143,0],[147,0.03],[152,0.01],[160,0.01],[164,0.02],[170,0.01],[184,-0.03],[190,-0.01],[206,-0.02],[213,-0.04],[217,-0.02],[221,-0.05],[228,-0.03],[232,-0.04],[236,-0.02],[240,-0.05],[247,-0.02],[251,-0.01],[256,-0.01],[262,-0.01],[297,-0.03],[303,-0.06],[308,-0.06],[313,-0.05],[318,-0.08],[323,-0.1],[330,-0.08],[334,-0.07],[339,-0.08],[344,-0.05],[349,-0.07],[355,-0.08],[360,-0.08]];
const yoffC14 = [[2,-0.05],[4,-0.03],[6,0.01],[8,0.04],[9,0.06],[11,-0.01],[13,0.02],[15,-0.08],[17,0.06],[19,0.02],[21,-0.12],[23,-0.08],[25,0.09],[26,-0.03],[30,-0.06],[32,-0.01],[36,0.08],[38,0.05],[40,-0.01],[42,0.01],[45,-0.02],[47,-0.09],[51,-0.01],[55,-0.04],[58,0.01],[62,-0.08],[64,-0.01],[68,-0.02],[72,0],[77,0.02],[81,-0.01],[85,0.01],[89,0.02],
[100,0.01],[106,0.04],[109,0.02],[113,-0.01],[117,0.01],[123,-0.02],[126,-0.04],[130,-0.01],[134,-0.05],[138,-0.08],[138,-0.11],[142,-0.04],[145,-0.06],[149,-0.08],[153,-0.06],[157,0.14],[157,0.05],[160,-0.01],[164,-0.02],[166,-0.08],[170,-0.01],[174,-0.04],[177,0.06],[179,0.04],[183,0.01],[185,-0.01],[189,0.04],[191,-0.04],[192,-0.01],
[202,0.08],[204,0],[208,0.02],[209,-0.14],[211,-0.09],[213,0.05],[217,0.04],[221,0.07],[225,0.05],[228,0.10],[230,0.08],[232,0.04],[236,0.02],[240,0.09],[242,0.06],[245,0.04],[249,0.01],[253,0.05],[257,0.02],[260,0.04],[264,0.01],[268,0.02],
[283,0.02],[287,0],[292,0.01],[296,-0.01],[300,0.01],[304,-0.02],[308,0.01],[311,-0.01],[315,0.05],[319,0.07],[320,0.13],[325,0.09],[326,0.07],[330,-0.04],[334,0.06],[336,0.01],[340,-0.01],[343,0.04],[345,-0.06],[349,0.11],[351,0.02],[355,0.01],[358,0.04],[360,-0.04],[362,-0.11],[362,-0.01],
[3,0],[5,-0.06],[7,0.03],[10,-0.04],[12,0.04],[14,0.01],[16,-0.04],[18,0.03],[20,-0.03],[22,0.02],[24,-0.05],[28,0.01],[31,-0.04],[34,0.03],[37,-0.02],[41,-0.04],[44,0.01],[48,-0.03],[53,-0.02],[57,-0.01],[60,-0.03],[66,0.01],[70,-0.02],[74,0.01],[79,0],[83,-0.01],[87,0],[92,-0.01],[97,0.02],[103,0],[111,0.01],[115,0.03],[119,-0.02],[121,0.02],[128,-0.03],[132,0],[136,-0.03],[140,-0.06],[144,-0.02],[147,-0.04],[151,-0.03],[155,-0.05],[162,0.02],[168,-0.03],[172,0.02],[176,-0.02],[181,-0.02],[187,0.01],[195,-0.03],[200,0.03],[206,0.04],[210,0.01],[215,0.06],[219,0.02],[223,0.03],[227,0.06],[234,0.07],[238,0.04],[243,0.02],[247,0.05],[251,0.03],[255,0.04],[262,0.02],[266,0.04],[271,0.01],[285,-0.01],[290,0.03],[294,0],[298,0.03],[302,-0.01],[306,-0.03],[310,0.02],[313,-0.03],[317,0.02],[322,-0.02],[328,0.03],[332,0.01],[338,0.04],[341,0.02],[347,0],[353,0.04],[356,-0.02],[359,0.02]];

const xoffAll = [xoffC06, xoffC07, xoffC08, xoffC09, xoffC10, xoffC11, xoffC12, xoffC14];
const yoffAll = [yoffC06, yoffC07, yoffC08, yoffC09, yoffC10, yoffC11, yoffC12, yoffC14];
const betaAll = [betaC06, betaC07, betaC08, betaC09, betaC10, betaC11, betaC12, betaC14];

// ---------------- layout ----------------
const FONT = '"Liberation Sans", Arial, Helvetica, sans-serif';
const GW = 322, GH = 224;
const gridPos = [[128,23],[502,23],[871,23],[128,301],[502,301],[871,301],[128,577],[502,577]];
const titlePos = [[316,56],[695,56],[1063,56],[322,333],[690,334],[1061,335],[314,610],[696,610]];
const showX = [false,false,false,false,false,true,true,true];
const showL = [true,false,false,true,false,false,true,false];
const showR = [false,false,true,false,false,true,false,true];
const AX = '#222';

const fmtX = v => { const t = xTickLabels.find(k => Math.abs(k - v) < 1e-6); return t === undefined ? '' : String(t); };
const fmtY = v => { const t = yTickLabels.find(k => Math.abs(k - v) < 1e-6); return t === undefined ? '' : t.toFixed(1); };
const fmtB = v => { const t = betaTickLabels.find(k => Math.abs(k - v) < 1e-6); return t === undefined ? '' : String(t); };

const grid = [], xAxis = [], yAxis = [], series = [], graphic = [];
for (let i = 0; i < 8; i++) {
  grid.push({ left: gridPos[i][0], top: gridPos[i][1], width: GW, height: GH });
  const lab = showX[i];
  xAxis.push({
    gridIndex: i, type: 'value', position: 'bottom', min: 0, max: 365, interval: lab ? 90 : 30,
    axisLine: { show: true, onZero: false, lineStyle: { color: AX, width: 1.5 } },
    axisTick: { show: true, inside: false, length: 5, lineStyle: { color: AX, width: 1.5 } },
    minorTick: { show: lab, splitNumber: 2, length: 5, lineStyle: { color: AX, width: 1.5 } },
    axisLabel: { show: lab, formatter: fmtX, fontSize: 32, fontFamily: FONT, color: '#000', margin: 9 },
    splitLine: { show: false }
  });
  xAxis.push({
    gridIndex: i, type: 'value', position: 'top', min: 0, max: 365, interval: lab ? 90 : 30,
    axisLine: { show: true, onZero: false, lineStyle: { color: AX, width: 1.5 } },
    axisTick: { show: true, inside: false, length: 3, lineStyle: { color: AX, width: 1.5 } },
    minorTick: { show: lab, splitNumber: 2, length: 3, lineStyle: { color: AX, width: 1.5 } },
    axisLabel: { show: false }, splitLine: { show: false }
  });
  yAxis.push({
    gridIndex: i, type: 'value', position: 'left', min: -0.4, max: 0.4, interval: 0.2,
    axisLine: { show: true, onZero: false, lineStyle: { color: AX, width: 1.5 } },
    axisTick: { show: true, inside: false, length: 5, lineStyle: { color: AX, width: 1.5 } },
    minorTick: { show: true, splitNumber: 2, length: 4, lineStyle: { color: AX, width: 1.5 } },
    axisLabel: { show: showL[i], formatter: fmtY, fontSize: 32, fontFamily: FONT, color: '#000', margin: 8 },
    splitLine: { show: true, lineStyle: { color: '#8a8a8a', width: 1 } }
  });
  yAxis.push({
    gridIndex: i, type: 'value', position: 'right', min: -90, max: 90, interval: 45,
    axisLine: { show: true, onZero: false, lineStyle: { color: AX, width: 1.5 } },
    axisTick: { show: true, inside: true, length: 5, lineStyle: { color: AX, width: 1.5 } },
    minorTick: { show: true, splitNumber: 3, length: 5, lineStyle: { color: AX, width: 1.5 } },
    axisLabel: { show: showR[i], formatter: fmtB, fontSize: 32, fontFamily: FONT, color: '#0000ff', margin: 6 },
    splitLine: { show: false }
  });
  series.push({
    type: 'scatter', name: legendNames[0], xAxisIndex: 2 * i, yAxisIndex: 2 * i,
    data: xoffAll[i], symbol: 'circle', symbolSize: 8.5, clip: false, z: 2, silent: true,
    itemStyle: { color: '#000000', opacity: 1 }
  });
  series.push({
    type: 'scatter', name: legendNames[1], xAxisIndex: 2 * i, yAxisIndex: 2 * i,
    data: yoffAll[i], symbol: 'circle', symbolSize: 8.5, clip: false, z: 3, silent: true,
    itemStyle: { color: '#ff0000', opacity: 1 }
  });
  series.push({
    type: 'line', name: 'beta ' + panelNames[i], xAxisIndex: 2 * i, yAxisIndex: 2 * i + 1,
    data: betaAll[i], showSymbol: false, smooth: 0.55, z: 4, silent: true,
    lineStyle: { color: '#0000ff', width: 5 }, itemStyle: { color: '#0000ff' }
  });
  graphic.push({
    type: 'text', x: titlePos[i][0], y: titlePos[i][1], z: 10,
    style: { text: panelNames[i], fill: '#000', font: '32px ' + FONT, align: 'center', verticalAlign: 'middle' }
  });
}
graphic.push({
  type: 'text', x: 29, y: 472, rotation: Math.PI / 2, z: 10,
  style: { text: yAxisTitle, fill: '#000', font: '34px ' + FONT, align: 'center', verticalAlign: 'middle' }
});
[[1271,156],[1271,434],[903,711]].forEach(p => graphic.push({
  type: 'text', x: p[0], y: p[1], rotation: Math.PI / 2, z: 10,
  style: { text: betaTitle, fill: '#0000ff', font: '33px ' + FONT, align: 'center', verticalAlign: 'middle' }
}));

const chart = echarts.init(document.getElementById('c'), null, { renderer: 'canvas' });
chart.setOption({
  animation: false,
  backgroundColor: '#ffffff',
  textStyle: { fontFamily: FONT },
  grid, xAxis, yAxis, series, graphic,
  legend: {
    data: legendNames, orient: 'vertical', left: 946, top: 647.5, padding: 0,
    itemWidth: 66, itemHeight: 8, itemGap: 0, icon: 'circle', selectedMode: false,
    textStyle: { fontSize: 32, fontFamily: FONT, color: '#000', lineHeight: 41 }
  }
});
</script>
</body></html>
